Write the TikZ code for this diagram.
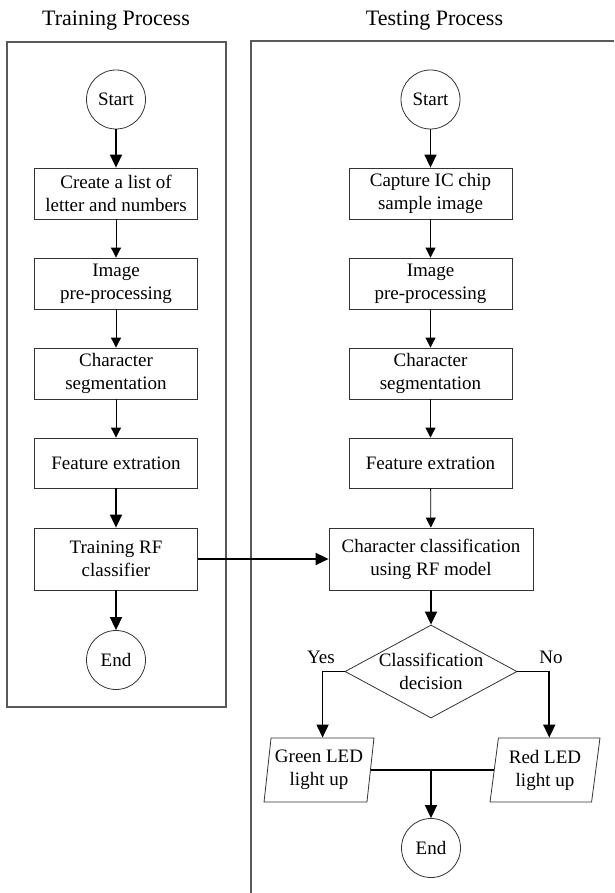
\documentclass[tikz,border=0pt]{standalone}
\usepackage{fontspec}
\setmainfont{Liberation Serif}
\usetikzlibrary{arrows.meta,positioning,calc,shapes.geometric}
\tikzset{
  txt/.style={font=\fontsize{19pt}{23pt}\selectfont, align=center, inner sep=2pt},
  proc/.style={txt, draw=black!80, line width=0.8pt, minimum width=163pt, minimum height=51pt},
  term/.style={txt, draw=black!80, line width=0.8pt, circle, minimum size=59pt, inner sep=0pt},
  io/.style={txt, draw=black!80, line width=0.8pt, trapezium, trapezium left angle=81, trapezium right angle=99, trapezium stretches=true, minimum width=110pt, minimum height=64pt, inner sep=1pt},
  arr/.style={-{Triangle[length=10pt,width=10pt]}, line width=0.8pt},
  arrbold/.style={-{Triangle[length=13pt,width=12pt]}, line width=1.6pt},
  panel/.style={draw=black!65, line width=1.2pt},
}
\begin{document}
\begin{tikzpicture}[x=1pt,y=-1pt]
    \useasboundingbox (0,0) rectangle (614,893);

    % the two panels
    \node [font=\fontsize{22pt}{26pt}\selectfont, anchor=base] (trtitle) at (116,26) {Training Process};
    \node [font=\fontsize{22pt}{26pt}\selectfont, anchor=base] (tetitle) at (434.5,26) {Testing Process};
    \draw [panel] (7,42) rectangle (226,707);
    \draw [panel] (614,41) -- (251,41) -- (251,893);

    % training
    \node [term] (tr0) at (116,99.5) {Start};
    \node [proc] (tr1) at (116,193.5) {Create a list of\\letter and numbers};
    \node [proc] (tr2) at (116,283.5) {Image\\pre-processing};
    \node [proc] (tr3) at (116,373.5) {Character\\segmentation};
    \node [proc, minimum height=50pt] (tr4) at (116,463) {Feature extration};
    \node [proc, minimum height=62pt] (tr5) at (116,559) {Training RF\\classifier};
    \node [term] (tr6) at (116,660) {End};

    % testing
    \node [term] (te0) at (430.5,99.5) {Start};
    \node [proc] (te1) at (430.5,193.5) {Capture IC chip\\sample image};
    \node [proc] (te2) at (430.5,283.5) {Image\\pre-processing};
    \node [proc] (te3) at (430.5,373.5) {Character\\segmentation};
    \node [proc, minimum height=50pt] (te4) at (430.5,463) {Feature extration};
    \node [proc, minimum width=204pt, minimum height=62pt] (te5) at (431,559) {Character classification\\using RF model};
    \node [draw=black!80, line width=0.8pt, diamond, minimum width=172pt, minimum height=93pt, inner sep=0pt] (dec) at (431,671.5) {};
    \node [txt] (dectxt) at (dec.center) {Classification\\decision};
    \node [txt, anchor=base] (yes) at (321,663) {Yes};
    \node [txt, anchor=base] (no) at (551,663) {No};
    \node [io] (green) at (319,770) {Green LED\\light up};
    \node [io] (red) at (545,770) {Red LED\\light up};
    \node [term] (te6) at (431,848) {End};
    \coordinate (mrg) at (te6 |- green.right side);

    \draw [arrbold] (tr0) -- (tr1);
    \draw [arr] (tr1) -- (tr2);
    \draw [arr] (tr2) -- (tr3);
    \draw [arr] (tr3) -- (tr4);
    \draw [arrbold] (tr4) -- (tr5);
    \draw [arrbold] (tr5) -- (tr6);
    \draw [arrbold] (tr5) -- (te5);

    \draw [arrbold] (te0) -- (te1);
    \draw [arr] (te1) -- (te2);
    \draw [arr] (te2) -- (te3);
    \draw [arr] (te3) -- (te4);
    \draw [arr] (te4) -- (te5);
    \draw [arrbold] (te5) -- (dec);
    \draw [arrbold] (dec.west) -| (green.top side);
    \draw [arrbold] (dec.east) -| (red.top side);
    \draw [line width=1.6pt] (green.right side) -- (red.left side);
    \draw [arrbold] (mrg) -- (te6);
  \end{tikzpicture}
\end{document}
